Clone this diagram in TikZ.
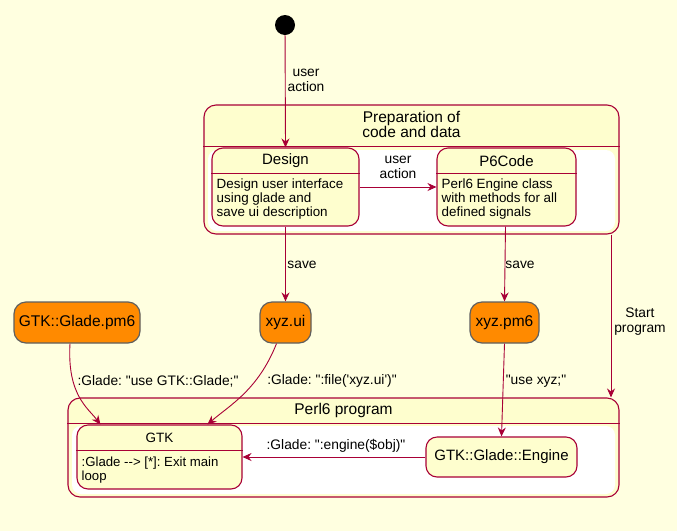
\documentclass[tikz,border=0pt]{standalone}
\usepackage{fontspec}
\setmainfont{Liberation Sans}[Ligatures=TeXOff]
\usetikzlibrary{arrows.meta,calc}
\definecolor{bg}{RGB}{255,255,224}
\definecolor{stfill}{RGB}{254,254,206}
\definecolor{bord}{HTML}{A80036}
\definecolor{orng}{RGB}{255,138,0}
\definecolor{ogray}{RGB}{95,95,95}
\tikzset{
  container/.style={draw=bord, fill=stfill, line width=1.1pt, rounded corners=12pt, inner sep=0pt},
  statebox/.style={draw=bord, fill=stfill, line width=1.1pt, rounded corners=11pt, inner sep=0pt},
  filebox/.style={draw=ogray, fill=orng, line width=1.2pt, rounded corners=12pt, inner sep=0pt},
  divider/.style={draw=bord, line width=1.1pt},
  arr/.style={draw=bord, line width=0.9pt, -{Stealth[length=9pt,width=8pt,inset=3pt]}},
  lbl/.style={inner sep=0pt, align=center, font=\fontsize{13.8}{15}\selectfont},
  ttl/.style={inner sep=0pt, align=center},
  body/.style={inner sep=0pt, align=left, anchor=west, font=\fontsize{13.4}{14}\selectfont},
}
\frenchspacing
\begin{document}
\begin{tikzpicture}[x=1pt,y=-1pt]
\useasboundingbox (0,0) rectangle (677,531);
\fill[bg] (0,0) rectangle (677,531);

% start
\node[circle, fill=black, minimum size=20pt, inner sep=0pt] (start) at (285,25) {};

% Preparation container
\node[container, minimum width=415pt, minimum height=129pt] (prep) at (411.5,169.5) {};
\draw[divider] ($(prep.north west)+(0,42)$) -- ($(prep.north east)+(0,42)$);
\fill[white, rounded corners=9pt] (208,150) rectangle (615,231);
\node[ttl, font=\fontsize{15.5}{15}\selectfont] (preptitle) at (411.5,124) {Preparation of\\code and data};

% Design
\node[statebox, minimum width=147pt, minimum height=78pt] (design) at (285.5,187) {};
\draw[divider] ($(design.north west)+(0,26)$) -- ($(design.north east)+(0,26)$);
\node[ttl, font=\fontsize{15}{15}\selectfont] (designtitle) at (285.5,161) {Design};
\node[body] (designbody) at (216.5,199) {Design user interface\\using glade and\\save ui description};

% P6Code
\node[statebox, minimum width=139pt, minimum height=78pt] (p6) at (506.5,187) {};
\draw[divider] ($(p6.north west)+(0,26)$) -- ($(p6.north east)+(0,26)$);
\node[ttl, font=\fontsize{15}{15}\selectfont] (p6title) at (506.5,161) {P6Code};
\node[body] (p6body) at (441.5,199) {Perl6 Engine class\\with methods for all\\defined signals};

% file nodes
\node[filebox, minimum width=126pt, minimum height=41pt, font=\fontsize{15.5}{15}\selectfont] (gladepm) at (77,322.5) {GTK::Glade.pm6};
\node[filebox, minimum width=51pt, minimum height=41pt, font=\fontsize{15.5}{15}\selectfont] (xyzui) at (285.5,322.5) {xyz.ui};
\node[filebox, minimum width=69pt, minimum height=41pt, font=\fontsize{15.5}{15}\selectfont] (xyzpm) at (504.5,322.5) {xyz.pm6};

% Perl6 program container
\node[container, minimum width=551pt, minimum height=99pt] (perl) at (343.5,447.5) {};
\draw[divider] ($(perl.north west)+(0,26)$) -- ($(perl.north east)+(0,26)$);
\fill[white, rounded corners=9pt] (72,426) rectangle (615,494);
\node[ttl, font=\fontsize{15.5}{15}\selectfont] (perltitle) at (343.5,410) {Perl6 program};

% GTK
\node[statebox, minimum width=165pt, minimum height=64pt] (gtk) at (159.5,457) {};
\draw[divider] ($(gtk.north west)+(0,26)$) -- ($(gtk.north east)+(0,26)$);
\node[ttl, font=\fontsize{13.5}{15}\selectfont] (gtktitle) at (159.5,438) {GTK};
\node[body, font=\fontsize{13.2}{14}\selectfont] (gtkbody) at (81.5,470) {:Glade --> [*]: Exit main\\loop};

% Engine
\node[statebox, minimum width=151pt, minimum height=40pt, font=\fontsize{15}{15}\selectfont] (engine) at (501.5,457) {GTK::Glade::Engine};

% connectors
\coordinate (sx) at (611,0);
\draw[arr] (start) -- (design.north);
\node[lbl] (l1) at (306,80) {user\\action};
\draw[arr] (design.east |- 0,187) -- (p6.west |- 0,187);
\node[lbl] (l2) at (398,167) {user\\action};
\draw[arr] (design.south) -- (xyzui.north);
\node[lbl] (l3) at (302,265) {save};
\draw[arr] (p6.south -| xyzpm.north) ++(1,0) -- (xyzpm.north);
\node[lbl] (l4) at (520,265) {save};
\draw[arr] (prep.south -| sx) -- (perl.north -| sx);
\node[lbl] (l5) at (640,322) {Start\\program};
\draw[arr] ($(gladepm.south)+(-7,0)$) .. controls (67,395) and (88,408) .. ($(gtk.north west)+(24,0)$);
\node[lbl] (l6) at (158,381) {:Glade: "use GTK::Glade;"};
\draw[arr] ($(xyzui.south)+(-9,0)$) .. controls (258,390) and (230,405) .. ($(gtk.north west)+(131,0)$);
\node[lbl] (l7) at (332,381) {:Glade: ":file('xyz.ui')"};
\draw[arr] (xyzpm.south) -- (engine.north);
\node[lbl] (l8) at (536,381) {"use xyz;"};
\draw[arr] (engine.west) -- (gtk.east);
\node[lbl] (l9) at (336,446) {:Glade: ":engine(\$obj)"};
\end{tikzpicture}
\end{document}
